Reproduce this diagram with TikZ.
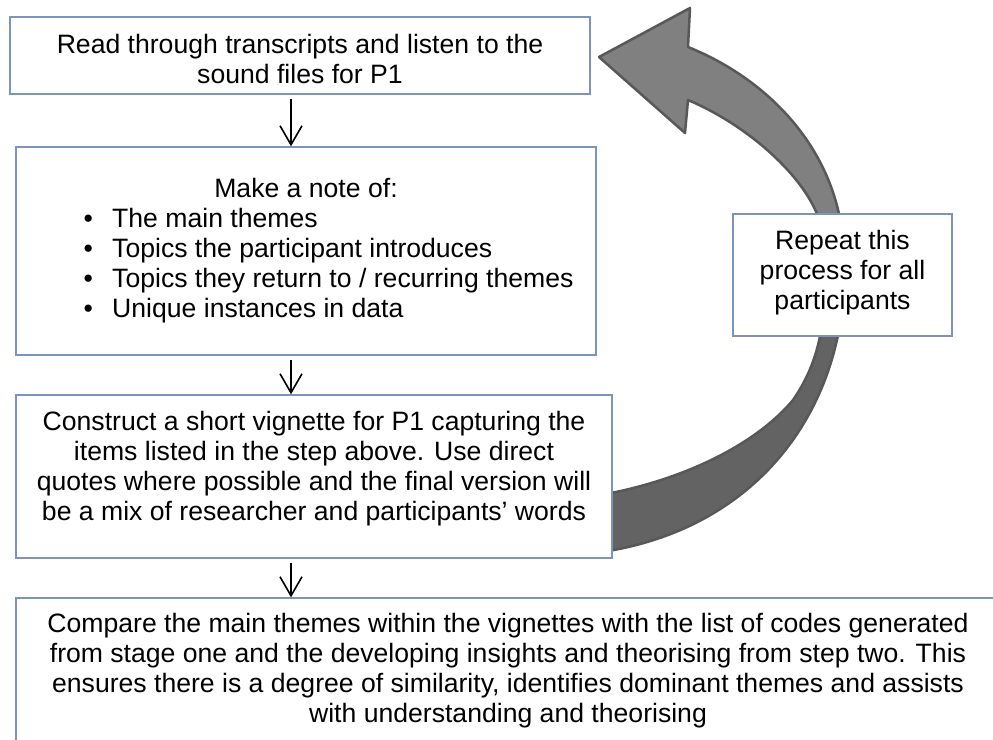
\documentclass[tikz,border=0pt]{standalone}
\usepackage{fontspec}
\setmainfont{Liberation Sans}
\usetikzlibrary{arrows.meta}

\definecolor{boxline}{RGB}{125,148,186}
\definecolor{arrowlight}{RGB}{128,128,128}
\definecolor{arrowdark}{RGB}{99,99,99}
\definecolor{arrowedge}{RGB}{88,88,88}

% outline of the big curved "repeat" arrow (pixel-like units, y down)
\newcommand{\repeatarrowpath}{(688,47) -- (690,8) -- (599,57) -- (685,133) -- (688,100)
  .. controls (745,124) and (800,172) .. (817,214)
  .. controls (830,290) and (828,350) .. (793,400)
  .. controls (760,440) and (690,480) .. (595,496)
  -- (595,553)
  .. controls (770,530) and (857,390) .. (843,240)
  .. controls (835,150) and (770,80) .. (688,47) -- cycle}

\begin{document}
\begin{tikzpicture}[x=1pt,y=-1pt,
  stage/.style={draw=boxline, line width=1.3pt, fill=white, rectangle, inner sep=0pt},
  boxtext/.style={inner sep=0pt, align=center, anchor=north, font=\fontsize{26.6}{30}\selectfont},
  listtext/.style={inner sep=0pt, align=left, anchor=north west, font=\fontsize{26.6}{30}\selectfont},
  flow/.style={line width=1.6pt, shorten <=4pt,
    -{Straight Barb[length=19pt,width=22pt,line width=1.6pt]}}
]
\useasboundingbox (0,0) rectangle (993,739);
\clip (0,0) rectangle (993,739);

% big curved arrow: light upper face, darker lower face
\begin{scope}
  \fill[arrowlight] \repeatarrowpath;
  \clip (0,275) rectangle (993,739);
  \fill[arrowdark] \repeatarrowpath;
\end{scope}
\draw[arrowedge, line width=2.5pt, line join=round] \repeatarrowpath;

% process boxes
\node[stage, minimum width=580pt, minimum height=77pt]  (b1) at (300,55.5) {};
\node[stage, minimum width=580pt, minimum height=208pt] (b2) at (306,251) {};
\node[stage, minimum width=596pt, minimum height=163pt] (b3) at (314,476.5) {};
\node[stage, minimum width=984pt, minimum height=182pt] (b4) at (508,689) {};
\node[stage, minimum width=219pt, minimum height=122pt] (rep) at (842.5,275) {};

% box texts
\node[boxtext] (t1) at (300,32.3)
  {\strut Read through transcripts and listen to the\\\strut sound files for P1};
\node[boxtext] (t2) at (306,176) {\strut Make a note of:};
\node[listtext] (t2list) at (83.5,206)
  {\strut\makebox[28.5pt][l]{•}The main themes\\
   \strut\makebox[28.5pt][l]{•}Topics the participant introduces\\
   \strut\makebox[28.5pt][l]{•}Topics they return to / recurring themes\\
   \strut\makebox[28.5pt][l]{•}Unique instances in data};
\node[boxtext] (t3) at (314,409)
  {\strut Construct a short vignette for P1 capturing the\\
   \strut items listed in the step above. Use direct\\
   \strut quotes where possible and the final version will\\
   \strut be a mix of researcher and participants’ words};
\node[boxtext] (t4) at (508,611)
  {\strut Compare the main themes within the vignettes with the list of codes generated\\
   \strut from stage one and the developing insights and theorising from step two. This\\
   \strut ensures there is a degree of similarity, identifies dominant themes and assists\\
   \strut with understanding and theorising};
\node[boxtext] (t5) at (842.5,228)
  {\strut Repeat this\\\strut process for all\\\strut participants};

% connectors
\coordinate (axis) at (291,0);
\draw[flow] (b1.south -| axis) -- (b2.north -| axis);
\draw[flow] (b2.south -| axis) -- (b3.north -| axis);
\draw[flow] (b3.south -| axis) -- (b4.north -| axis);
\end{tikzpicture}
\end{document}
